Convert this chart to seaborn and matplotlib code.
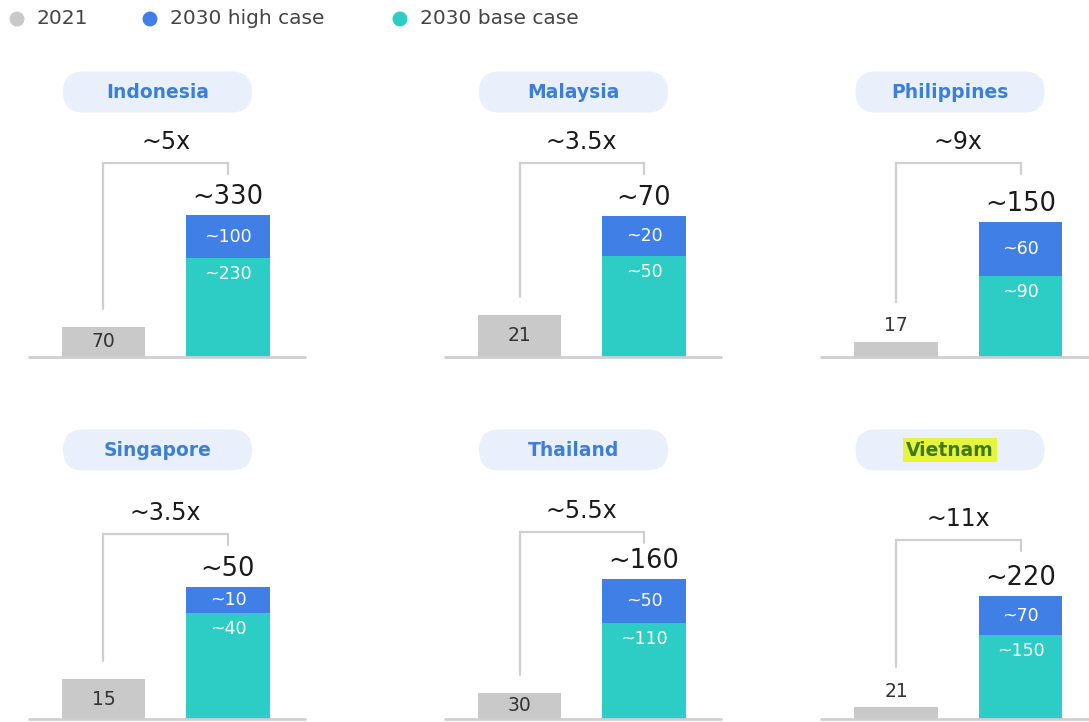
import matplotlib
matplotlib.use("Agg")
import matplotlib.pyplot as plt
from matplotlib.patches import FancyBboxPatch
import pandas as pd
import seaborn as sns

# ---- data -------------------------------------------------------------
countries = ["Indonesia", "Malaysia", "Philippines", "Singapore", "Thailand", "Vietnam"]
value_2021 = [70, 21, 17, 15, 30, 21]
high_case = [100, 20, 60, 10, 50, 70]
base_case = [230, 50, 90, 40, 110, 150]
multipliers = ["~5x", "~3.5x", "~9x", "~3.5x", "~5.5x", "~11x"]
periods = ["2021", "2030"]
legend_labels = ["2021", "2030 high case", "2030 base case"]
highlighted = "Vietnam"

# ---- style ------------------------------------------------------------
GRAY = "#c9c9c9"
BLUE = "#3f7fe6"
TEAL = "#2dcdc6"
LINE = "#cfcfcf"
PILL = "#e9f0fb"
PILL_TEXT = "#3d7fd6"
DARK = "#1a1a1a"

sns.set_theme(style="white")
plt.rcParams["font.family"] = ["DejaVu Sans"]

W, H = 1089, 722
fig = plt.figure(figsize=(W / 100, H / 100), dpi=100)

# panel geometry in pixels
col_x = [103.5, 519.5, 896.0]       # centre of the 2021 bar in each column
row_base = [357, 719]                 # baseline of each row
unit = 124.5                          # distance between the two bars
panel_h = 300
bar_px = [142, 141, 135, 132, 140, 123]      # drawn height of the 2030 stack
bracket_px = [194, 194, 194, 185, 187, 179]  # height of the growth bracket

# full-figure layer for pills and legend
ov = fig.add_axes([0, 0, 1, 1], zorder=0)
ov.set_xlim(0, W)
ov.set_ylim(H, 0)
ov.axis("off")

# legend
leg_x = [17, 150, 400]
for lx, lab, col in zip(leg_x, legend_labels, [GRAY, BLUE, TEAL]):
    ov.scatter([lx], [19], s=115, color=col, edgecolors="none")
    ov.text(lx + 20, 19, lab, fontsize=14.5, color="#444444", va="center", ha="left")

for i, name in enumerate(countries):
    r, c = divmod(i, 3)
    cx, base = col_x[c], row_base[r]
    total = high_case[i] + base_case[i]
    s = bar_px[i] / total                 # pixels per value unit
    px = lambda p: p / s                  # pixel height -> data units

    left = cx - 0.6 * unit
    width = 2.22 * unit
    ax = fig.add_axes([left / W, (H - base) / H, width / W, panel_h / H], zorder=2)
    ax.patch.set_alpha(0)

    stack = pd.DataFrame({"period": periods, "value": [value_2021[i], total]})
    lower = pd.DataFrame({"period": periods, "value": [0, base_case[i]]})
    sns.barplot(data=stack, x="period", y="value", hue="period", order=periods,
                palette={"2021": GRAY, "2030": BLUE}, dodge=False, legend=False,
                errorbar=None, width=0.667, linewidth=0, saturation=1, ax=ax)
    sns.barplot(data=lower, x="period", y="value", order=periods, color=TEAL,
                errorbar=None, width=0.667, linewidth=0, saturation=1, ax=ax)

    ax.set_xlim(-0.6, 1.62)
    ax.set_ylim(0, px(panel_h))
    ax.axis("off")
    ax.axhline(0, color=LINE, lw=2, clip_on=False, zorder=5)

    # 2021 value
    g_px = value_2021[i] * s
    if g_px >= 20:
        ax.text(0, value_2021[i] / 2, str(value_2021[i]), ha="center", va="center",
                fontsize=13.5, color="#333333")
        lb = g_px + 18
    else:
        ax.text(0, px(g_px + 16), str(value_2021[i]), ha="center", va="center",
                fontsize=13.5, color="#333333")
        lb = g_px + 40

    # 2030 segment labels and total
    ax.text(1, base_case[i] + high_case[i] / 2, f"~{high_case[i]}", ha="center",
            va="center", fontsize=12.5, color="white")
    ax.text(1, base_case[i] - px(16), f"~{base_case[i]}", ha="center",
            va="center", fontsize=12.5, color="white")
    ax.text(1, total + px(18), f"~{total}", ha="center", va="center",
            fontsize=18.5, color=DARK)

    # growth bracket and multiplier
    bt = bracket_px[i]
    ax.plot([0, 0, 1, 1], [px(lb), px(bt), px(bt), px(bt - 11)], color=LINE,
            lw=1.6, solid_joinstyle="miter", clip_on=False)
    ax.text(0.5, px(bt + 21), multipliers[i], ha="center", va="center",
            fontsize=17, color=DARK)

    # country pill
    pcx, pcy = cx + 54, base - (265 if r == 0 else 269)
    ov.add_patch(FancyBboxPatch((pcx - 94.5, pcy - 20.5), 189, 41,
                                boxstyle="round,pad=0,rounding_size=20.5",
                                facecolor=PILL, edgecolor="none"))
    if name == highlighted:
        ov.text(pcx, pcy, name, ha="center", va="center", fontsize=13.5,
                fontweight="bold", color="#3e7a1c",
                bbox=dict(boxstyle="square,pad=0.15", facecolor="#e6f43c",
                          edgecolor="none"))
    else:
        ov.text(pcx, pcy, name, ha="center", va="center", fontsize=13.5,
                fontweight="bold", color=PILL_TEXT)

fig.savefig("out.png", dpi=100)
